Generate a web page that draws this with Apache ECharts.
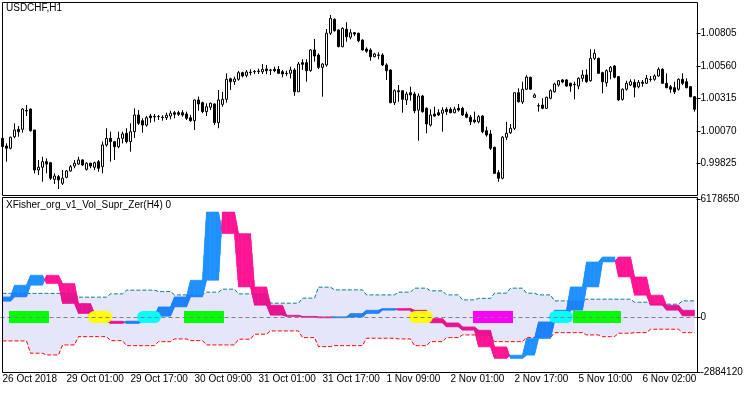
<!DOCTYPE html>
<html>
<head>
<meta charset="utf-8">
<script src="https://cdn.jsdelivr.net/npm/echarts@6.0.0/dist/echarts.min.js"></script>
<style>
html,body{margin:0;padding:0;background:#fff;}
#chart{width:750px;height:394px;}
</style>
</head>
<body>
<div id="chart"></div>
<script>
// ---------- DATA ----------
// USDCHF H1 candles: [open, close, low, high]
const candles = [
[1.00013,0.99950,0.99940,1.00023],[0.99955,0.99938,0.99837,0.99975],[0.99938,1.00021,0.99930,1.00025],[1.00025,1.00076,1.00013,1.00126],
[1.00081,1.00063,1.00025,1.00106],[1.00081,1.00234,1.00055,1.00239],[1.00223,1.00219,1.00181,1.00264],[1.00234,1.00070,1.00064,1.00238],
[1.00076,0.99774,0.99749,1.00076],[0.99774,0.99795,0.99736,0.99850],[0.99795,0.99837,0.99686,0.99874],[0.99837,0.99819,0.99749,0.99862],
[0.99829,0.99712,0.99699,0.99835],[0.99704,0.99729,0.99669,0.99749],[0.99724,0.99699,0.99631,0.99736],[0.99674,0.99712,0.99661,0.99774],
[0.99719,0.99767,0.99712,0.99774],[0.99767,0.99799,0.99761,0.99812],[0.99804,0.99825,0.99787,0.99850],[0.99819,0.99850,0.99812,0.99874],
[0.99850,0.99812,0.99804,0.99855],[0.99779,0.99825,0.99769,0.99832],[0.99825,0.99804,0.99787,0.99829],[0.99795,0.99829,0.99774,0.99837],
[0.99837,0.99787,0.99761,0.99850],[0.99799,0.99963,0.99749,0.99988],[0.99963,1.00013,0.99950,1.00089],[1.00013,0.99988,0.99837,1.00063],
[0.99988,0.99950,0.99850,0.99988],[0.99950,1.00013,0.99938,1.00063],[1.00013,1.00046,0.99975,1.00063],[1.00051,0.99988,0.99975,1.00089],
[0.99988,1.00063,0.99912,1.00126],[1.00063,1.00189,1.00015,1.00239],[1.00189,1.00126,1.00113,1.00226],[1.00146,1.00113,1.00055,1.00164],
[1.00113,1.00168,1.00101,1.00181],[1.00181,1.00168,1.00131,1.00196],[1.00178,1.00174,1.00138,1.00196],[1.00176,1.00179,1.00151,1.00189],
[1.00172,1.00170,1.00146,1.00187],[1.00168,1.00187,1.00151,1.00206],[1.00181,1.00202,1.00156,1.00221],[1.00206,1.00194,1.00164,1.00219],
[1.00206,1.00194,1.00181,1.00221],[1.00206,1.00189,1.00176,1.00226],[1.00196,1.00164,1.00151,1.00214],[1.00168,1.00146,1.00138,1.00189],
[1.00146,1.00302,1.00076,1.00307],[1.00302,1.00272,1.00221,1.00327],[1.00282,1.00214,1.00202,1.00289],[1.00214,1.00251,1.00181,1.00277],
[1.00247,1.00277,1.00226,1.00282],[1.00272,1.00131,1.00113,1.00277],[1.00131,1.00302,1.00089,1.00377],[1.00269,1.00307,1.00251,1.00364],
[1.00307,1.00458,1.00282,1.00503],[1.00462,1.00440,1.00377,1.00470],[1.00440,1.00460,1.00415,1.00478],[1.00458,1.00508,1.00447,1.00521],
[1.00508,1.00483,1.00473,1.00515],[1.00488,1.00513,1.00473,1.00528],[1.00511,1.00509,1.00488,1.00533],[1.00515,1.00517,1.00498,1.00528],
[1.00516,1.00520,1.00498,1.00538],[1.00515,1.00533,1.00498,1.00573],[1.00536,1.00523,1.00496,1.00566],[1.00528,1.00526,1.00490,1.00536],
[1.00533,1.00523,1.00511,1.00553],[1.00533,1.00503,1.00498,1.00558],[1.00515,1.00498,1.00473,1.00528],[1.00503,1.00501,1.00483,1.00523],
[1.00503,1.00528,1.00465,1.00553],[1.00528,1.00364,1.00334,1.00541],[1.00364,1.00573,1.00364,1.00588],[1.00583,1.00571,1.00528,1.00609],
[1.00583,1.00523,1.00440,1.00609],[1.00523,1.00679,1.00515,1.00684],[1.00679,1.00634,1.00591,1.00762],[1.00641,1.00548,1.00536,1.00654],
[1.00548,1.00573,1.00327,1.00579],[1.00566,1.00805,1.00553,1.00837],[1.00805,1.00918,1.00792,1.00943],[1.00910,1.00824,1.00817,1.00918],
[1.00830,1.00704,1.00699,1.00835],[1.00704,1.00842,1.00699,1.00850],[1.00835,1.00779,1.00741,1.00888],[1.00775,1.00809,1.00759,1.00835],
[1.00809,1.00799,1.00784,1.00814],[1.00805,1.00749,1.00737,1.00809],[1.00754,1.00679,1.00674,1.00759],[1.00686,1.00669,1.00658,1.00699],
[1.00679,1.00628,1.00598,1.00692],[1.00628,1.00649,1.00624,1.00658],[1.00641,1.00639,1.00609,1.00661],[1.00641,1.00566,1.00558,1.00654],
[1.00566,1.00523,1.00453,1.00579],[1.00528,1.00282,1.00277,1.00533],[1.00282,1.00372,1.00264,1.00383],[1.00372,1.00364,1.00289,1.00415],
[1.00372,1.00307,1.00206,1.00377],[1.00302,1.00347,1.00264,1.00364],[1.00357,1.00340,1.00297,1.00402],[1.00347,1.00221,1.00202,1.00364],
[1.00226,1.00332,0.99995,1.00352],[1.00332,1.00214,1.00206,1.00340],[1.00239,1.00121,1.00051,1.00247],[1.00113,1.00189,1.00101,1.00232],
[1.00196,1.00181,1.00176,1.00251],[1.00206,1.00189,1.00181,1.00232],[1.00202,1.00226,1.00063,1.00247],[1.00232,1.00214,1.00189,1.00247],
[1.00232,1.00206,1.00202,1.00247],[1.00206,1.00232,1.00202,1.00251],[1.00239,1.00226,1.00214,1.00272],[1.00239,1.00189,1.00181,1.00251],
[1.00196,1.00172,1.00164,1.00214],[1.00172,1.00138,1.00113,1.00189],[1.00151,1.00138,1.00126,1.00214],[1.00138,1.00176,1.00126,1.00189],
[1.00181,1.00063,1.00051,1.00187],[1.00070,1.00038,1.00025,1.00101],[1.00046,0.99938,0.99925,1.00076],[0.99945,0.99749,0.99744,0.99950],
[0.99754,0.99712,0.99686,0.99774],[0.99712,1.00021,0.99704,1.00031],[1.00021,1.00051,1.00000,1.00138],[1.00055,1.00089,1.00046,1.00121],
[1.00089,1.00357,1.00076,1.00357],[1.00357,1.00289,1.00282,1.00390],[1.00287,1.00383,1.00272,1.00440],[1.00383,1.00475,1.00377,1.00488],
[1.00473,1.00383,1.00377,1.00478],[1.00322,1.00340,1.00322,1.00352],[1.00259,1.00257,1.00214,1.00277],[1.00264,1.00239,1.00232,1.00315],
[1.00239,1.00322,1.00234,1.00327],[1.00315,1.00372,1.00307,1.00383],[1.00364,1.00423,1.00357,1.00432],[1.00415,1.00447,1.00402,1.00453],
[1.00453,1.00438,1.00428,1.00460],[1.00453,1.00407,1.00402,1.00458],[1.00428,1.00407,1.00364,1.00432],[1.00420,1.00418,1.00307,1.00440],
[1.00407,1.00465,1.00383,1.00473],[1.00465,1.00490,1.00440,1.00528],[1.00490,1.00440,1.00432,1.00533],[1.00447,1.00616,1.00440,1.00684],
[1.00616,1.00654,1.00603,1.00684],[1.00616,1.00503,1.00498,1.00621],[1.00508,1.00440,1.00352,1.00515],[1.00432,1.00523,1.00402,1.00533],
[1.00515,1.00548,1.00458,1.00558],[1.00558,1.00473,1.00465,1.00566],[1.00478,1.00302,1.00297,1.00483],[1.00307,1.00383,1.00297,1.00390],
[1.00383,1.00428,1.00372,1.00447],[1.00415,1.00440,1.00407,1.00458],[1.00435,1.00398,1.00322,1.00458],[1.00402,1.00435,1.00390,1.00453],
[1.00435,1.00428,1.00402,1.00453],[1.00428,1.00465,1.00423,1.00490],[1.00458,1.00456,1.00440,1.00483],[1.00458,1.00483,1.00447,1.00496],
[1.00483,1.00533,1.00478,1.00548],[1.00533,1.00428,1.00423,1.00541],[1.00428,1.00395,1.00390,1.00503],[1.00402,1.00383,1.00357,1.00415],
[1.00395,1.00364,1.00347,1.00440],[1.00383,1.00458,1.00372,1.00465],[1.00458,1.00428,1.00415,1.00503],[1.00440,1.00395,1.00390,1.00465],
[1.00402,1.00327,1.00322,1.00407],[1.00327,1.00232,1.00214,1.00332]
];

// H4 blocks of the indicator (first H1 bar index of each H4 bar)
const blockStart = [0,3,7,11,15,19,23,27,31,35,39,43,47,51,55,59,63,67,71,75,79,83,87,91,95,99,103,107,111,115,119,123,127,131,134,138,142,146,150,154,158,162,166,170];
// XFisher H4 values (first entry = value before the first visible block)
const fisherH4 = [824000,1050000,1664000,2188000,1753000,703000,178000,-226000,-346000,-220000,37000,525000,1050000,1926000,5510000,4377000,1574000,614000,89000,21000,-16000,-31000,-10000,178000,352000,441000,350000,-84000,-315000,-525000,-698000,-1574000,-2183000,-2010000,-1134000,-262000,352000,1574000,2886000,3149000,2099000,1139000,614000,352000,52000];
// volume levels per H4 block
const upperLevel = [1236000,1236000,1236000,1236000,1236000,1036000,1036000,1210000,1404000,1404000,1331000,1157000,1157000,1299000,1457000,1210000,1210000,721000,721000,984000,1562000,1420000,1420000,1157000,1157000,1299000,1510000,1368000,1157000,894000,973000,1247000,1510000,1247000,1157000,842000,842000,931000,931000,931000,773000,668000,668000,842000];
const lowerLevel = [-1262000,-1262000,-1909000,-1999000,-1473000,-1036000,-1036000,-1247000,-1510000,-1510000,-1299000,-1157000,-1247000,-1473000,-1473000,-1173000,-910000,-736000,-736000,-1089000,-1562000,-1510000,-1510000,-1120000,-1120000,-1157000,-1510000,-1299000,-1089000,-947000,-1036000,-1299000,-1299000,-1089000,-1089000,-826000,-826000,-947000,-1036000,-857000,-826000,-647000,-647000,-826000];

// zero-line signals: first bar, last bar, type (0 green, 1 yellow, 2 aqua, 3 magenta)
const signalStart = [2,23,35,46,103,118,138,143];
const signalEnd   = [11,26,38,55,106,127,141,154];
const signalType  = [0,1,2,0,1,3,2,0];

// axis ticks
const priceTicks = [0.99825,1.00070,1.00315,1.00560,1.00805];
const indTicks = [-2884120,0,6178650];
const tickBars = [0,16,32,48,64,80,96,112,128,144,160];
const xTickLabels = ['26 Oct 2018','29 Oct 01:00','29 Oct 17:00','30 Oct 09:00','31 Oct 01:00','31 Oct 17:00','1 Nov 09:00','2 Nov 01:00','2 Nov 17:00','5 Nov 10:00','6 Nov 02:00'];

// ---------- BUILD ----------
const FONT = '"Liberation Sans", Arial, sans-serif';
const FS = 10;
const N = candles.length;
const cats = candles.map((_, i) => String(i));
function blockOf(k){ let j = 0; while (j + 1 < blockStart.length && blockStart[j+1] <= k) j++; return j; }
const upperBar = cats.map((_, k) => upperLevel[blockOf(k)]);
const lowerBar = cats.map((_, k) => lowerLevel[blockOf(k)]);
const fisherBar = cats.map((_, k) => fisherH4[blockOf(k) + 1]);
const triggerBar = cats.map((_, k) => fisherH4[blockOf(k)]);
// one item per pair of neighbouring bars
const bandData = [];
for (let k = 0; k < N - 1; k++) {
  bandData.push([k, k + 1, fisherBar[k], fisherBar[k+1], triggerBar[k], triggerBar[k+1],
                 upperBar[k], upperBar[k+1], lowerBar[k], lowerBar[k+1]]);
}
const signalData = signalStart.map((s, i) => [s, signalEnd[i], 0, signalType[i]]);
const signalColors = ['#00FF00','#FFFF00','#00FFFF','#FF00FF'];
const UP_OUT = '#1E90FF', UP_IN = '#1B82FA', DN_OUT = '#FF1493', DN_IN = '#E61290';

const chart = echarts.init(document.getElementById('chart'), null, {renderer: 'canvas'});
chart.setOption({
  animation: false,
  backgroundColor: '#ffffff',
  textStyle: {fontFamily: FONT},
  grid: [
    {left: 0.5, top: 2.5, width: 696, height: 193, containLabel: false, outerBoundsMode: 'none'},
    {left: 0.5, top: 197.5, width: 696, height: 175, containLabel: false, outerBoundsMode: 'none'}
  ],
  xAxis: [
    {gridIndex: 0, type: 'category', data: cats, boundaryGap: true,
     axisLine: {show: false}, axisTick: {show: false}, axisLabel: {show: false}, splitLine: {show: false}},
    {gridIndex: 1, type: 'category', data: cats, boundaryGap: true,
     axisLine: {show: false},
     axisTick: {show: true, alignWithLabel: true, length: 4, interval: (i) => tickBars.indexOf(i) > 0, lineStyle: {color: '#000'}},
     axisLabel: {show: true, interval: (i) => tickBars.indexOf(i) >= 0, formatter: (v, i) => xTickLabels[tickBars.indexOf(i)] || '',
       align: 'left', margin: 2, color: '#000', fontSize: FS, fontFamily: FONT},
     splitLine: {show: false}}
  ],
  yAxis: [
    {gridIndex: 0, type: 'value', position: 'right', min: 0.995819, max: 1.010369, scale: true,
     axisLine: {show: false}, splitLine: {show: false},
     axisTick: {show: true, customValues: priceTicks, length: 4, lineStyle: {color: '#000'}},
     axisLabel: {show: true, customValues: priceTicks, formatter: (v) => Number(v).toFixed(5), margin: 4, color: '#000', fontSize: FS, fontFamily: FONT}},
    {gridIndex: 1, type: 'value', position: 'right', min: -2921000, max: 6273000,
     axisLine: {show: false}, splitLine: {show: false},
     axisTick: {show: true, customValues: indTicks, length: 4, lineStyle: {color: '#000'}},
     axisLabel: {show: true, customValues: indTicks, formatter: (v) => String(Math.round(v)), margin: 4, color: '#000', fontSize: FS, fontFamily: FONT}}
  ],
  series: [
    {name: 'USDCHF', type: 'candlestick', xAxisIndex: 0, yAxisIndex: 0, data: candles, barWidth: 2, z: 3,
     itemStyle: {color: '#ffffff', color0: '#000000', borderColor: '#000000', borderColor0: '#000000', borderWidth: 1}},
    {name: 'volumeCloud', type: 'custom', xAxisIndex: 1, yAxisIndex: 1, data: [[0, N - 1, 0]], z: 1, silent: true,
     encode: {x: [0, 1], y: 2},
     renderItem: function (params, api) {
       const pts = [];
       for (let k = 0; k < N; k++) pts.push(api.coord([k, upperBar[k]]));
       for (let k = N - 1; k >= 0; k--) pts.push(api.coord([k, lowerBar[k]]));
       return {type: 'polygon', shape: {points: pts}, style: {fill: '#E6E6FA'}};
     }},
    {name: 'upper', type: 'line', xAxisIndex: 1, yAxisIndex: 1, data: upperBar, symbol: 'none', z: 2, silent: true,
     lineStyle: {color: '#008080', width: 1, type: [4, 2]}},
    {name: 'lower', type: 'line', xAxisIndex: 1, yAxisIndex: 1, data: lowerBar, symbol: 'none', z: 2, silent: true,
     lineStyle: {color: '#FF0000', width: 1, type: [4, 2]}},
    {name: 'XFisher', type: 'custom', xAxisIndex: 1, yAxisIndex: 1, data: bandData, z: 3, silent: true,
     encode: {x: [0, 1], y: [2, 3, 4, 5]},
     renderItem: function (params, api) {
       const k0 = api.value(0), k1 = api.value(1);
       const f0 = api.value(2), f1 = api.value(3), g0 = api.value(4), g1 = api.value(5);
       const u0 = api.value(6), u1 = api.value(7), l0 = api.value(8), l1 = api.value(9);
       const X0 = api.coord([k0, 0])[0], X1 = api.coord([k1, 0])[0];
       const Y = (v) => api.coord([k0, v])[1];
       const same = (f0 === f1 && g0 === g1 && u0 === u1 && l0 === l1);
       const n = same ? 1 : 8;
       const lerp = (a, b, t) => a + (b - a) * t;
       const children = [];
       for (let i = 0; i < n; i++) {
         const ta = i / n, tb = (i + 1) / n, tm = (ta + tb) / 2;
         const ends = [ta, tb].map(function (t) {
           const yf = Y(lerp(f0, f1, t)), yg = Y(lerp(g0, g1, t));
           let top = Math.min(yf, yg), bot = Math.max(yf, yg);
           if (bot - top < 1) { const m = (top + bot) / 2; top = m - 0.5; bot = m + 0.5; }
           return {x: lerp(X0, X1, t), top: top, bot: bot, yu: Y(lerp(u0, u1, t)), yl: Y(lerp(l0, l1, t))};
         });
         const dm = lerp(f0, f1, tm) - lerp(g0, g1, tm);
         const rising = dm !== 0 ? dm > 0 : (f1 - g1) > 0;
         const outC = rising ? UP_OUT : DN_OUT, inC = rising ? UP_IN : DN_IN;
         const pieces = [
           [(e) => e.top, (e) => Math.min(e.bot, e.yu), outC],
           [(e) => Math.max(e.top, e.yu), (e) => Math.min(e.bot, e.yl), inC],
           [(e) => Math.max(e.top, e.yl), (e) => e.bot, outC]
         ];
         pieces.forEach(function (p) {
           const a = ends[0], b = ends[1];
           let at = p[0](a), ab = p[1](a), bt = p[0](b), bb = p[1](b);
           if (ab <= at && bb <= bt) return;
           if (ab < at) ab = at;
           if (bb < bt) bb = bt;
           children.push({type: 'polygon', shape: {points: [[a.x, at], [b.x, bt], [b.x, bb], [a.x, ab]]},
                          style: {fill: p[2], stroke: p[2], lineWidth: 0.6}});
         });
       }
       return {type: 'group', children: children};
     }},
    {name: 'signals', type: 'custom', xAxisIndex: 1, yAxisIndex: 1, data: signalData, z: 4, silent: true,
     encode: {x: [0, 1], y: 2},
     renderItem: function (params, api) {
       const s = api.value(0), e = api.value(1), t = api.value(3);
       const bw = api.size([1, 0])[0];
       const yc = api.coord([s, api.value(2)])[1];
       const pill = (t === 1 || t === 2);
       const h = 12;
       let x0, x1;
       if (pill) { x0 = api.coord([s, 0])[0] - h / 2; x1 = api.coord([e, 0])[0] + h / 2; }
       else { x0 = api.coord([s, 0])[0] - bw / 2; x1 = api.coord([e, 0])[0] + bw / 2; }
       return {type: 'rect', shape: {x: Math.round(x0), y: Math.round(yc - h / 2), width: Math.round(x1 - x0), height: h, r: pill ? h / 2 : 0},
               style: {fill: signalColors[t]}};
     },
     markLine: {silent: true, symbol: 'none', animation: false, label: {show: false},
       lineStyle: {color: '#808080', width: 1, type: [4, 3]}, emphasis: {disabled: true},
       data: [{yAxis: 0}]}}
  ],
  graphic: [
    {type: 'rect', silent: true, z: 100, shape: {x: 2.5, y: 2.5, width: 695, height: 193}, style: {fill: 'none', stroke: '#000', lineWidth: 1}},
    {type: 'rect', silent: true, z: 100, shape: {x: 2.5, y: 197.5, width: 695, height: 175}, style: {fill: 'none', stroke: '#000', lineWidth: 1}},
    {type: 'text', silent: true, z: 100, left: 6, top: 3, style: {text: 'USDCHF,H1', fill: '#000', font: FS + 'px ' + FONT}},
    {type: 'text', silent: true, z: 100, left: 6, top: 200, style: {text: 'XFisher_org_v1_Vol_Supr_Zer(H4) 0', fill: '#000', font: FS + 'px ' + FONT}}
  ]
});
</script>
</body>
</html>
